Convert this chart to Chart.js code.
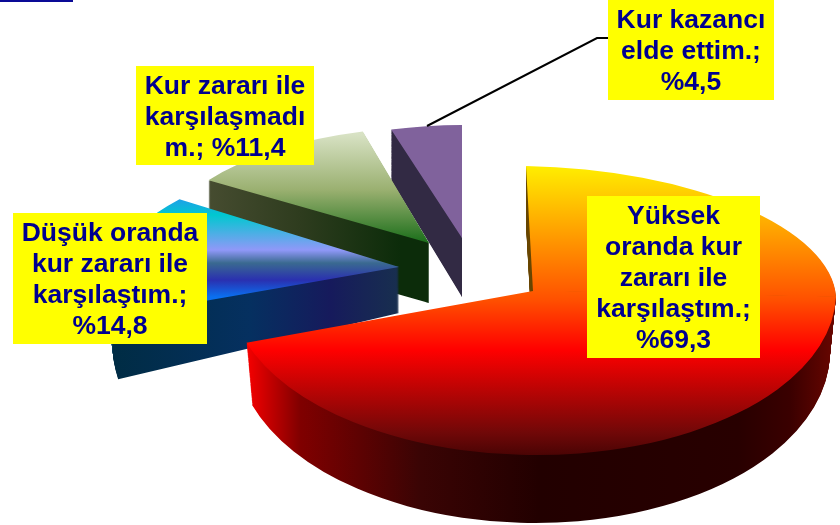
<!DOCTYPE html>
<html>
<head>
<meta charset="utf-8">
<script src="https://cdn.jsdelivr.net/npm/chart.js@4"></script>
<style>
  html, body { margin: 0; padding: 0; background: #fff; }
  #wrap { width: 840px; height: 525px; }
</style>
</head>
<body>
<div id="wrap"><canvas id="pie" width="840" height="525"></canvas></div>
<script>
const categories = [
  ['Yüksek', 'oranda kur', 'zararı ile', 'karşılaştım.;', '%69,3'],
  ['Düşük oranda', 'kur zararı ile', 'karşılaştım.;', '%14,8'],
  ['Kur zararı ile', 'karşılaşmadı', 'm.; %11,4'],
  ['Kur kazancı', 'elde ettim.;', '%4,5']
];
const shares = [69.3, 14.8, 11.4, 4.5];

// how each slice is projected on the page (fake perspective, one matrix per half)
const sliceSetup = [
  { tipX: 533, tipY: 291, rx: 303, ryTop: 125, ryBottom: 164, kTop: 7, kBottom: -8, m: 6, depth: 59, shrink: 0.02, growTop: 0, growBottom: 0.054, wallTop: '#6a4800' },
  { tipX: 399, tipY: 267, rx: 290, ryTop: 125, ryBottom: 143, kTop: -45, kBottom: -45, m: 0, depth: 46, shrink: 0.024, growTop: 0, growBottom: 0.32 },
  { tipX: 429, tipY: 243, rx: 268, ryTop: 116, ryBottom: 116, kTop: -9, kBottom: -9, m: 0, depth: 60, shrink: 0, growTop: 0, growBottom: 0 },
  { tipX: 462, tipY: 238, rx: 254, ryTop: 113, ryBottom: 113, kTop: 0, kBottom: 0, m: 0, depth: 59, shrink: 0, growTop: 0.078, growBottom: 0 }
];
const faceStops = [
  [[166, '#ffee00'], [300, '#ff5000'], [350, '#ff0000'], [433, '#700808'], [455, '#4a0404']],
  [[199, '#1fa0e8'], [215, '#00c8d0'], [250, '#9098f8'], [263, '#3a6a90'], [280, '#2a30b0'], [297, '#0a70f0'], [340, '#0a70f0']],
  [[134, '#d8e2c4'], [190, '#9ab070'], [243, '#1a6e1a']],
  [[125, '#80629c'], [240, '#80629c']]
];
const wallStops = [
  [[243, '#ff0000'], [300, '#800000'], [420, '#3a0404'], [540, '#220000'], [738, '#280000'], [790, '#3a0000'], [836, '#6a0600']],
  [[109, '#1780d0'], [113, '#002c44'], [250, '#053060'], [330, '#161a5c'], [402, '#18304e']],
  [[209, '#464c30'], [300, '#2e3c1e'], [400, '#0c2c0a'], [430, '#0c2c0a']],
  [[392, '#322a44'], [463, '#322a44']]
];
const labelBoxes = [
  { x: 587, y: 196, w: 173, h: 162 },
  { x: 13, y: 213, w: 194, h: 131 },
  { x: 136, y: 66, w: 178, h: 99 },
  { x: 608, y: 0, w: 166, h: 100 }
];

// gradient that runs along page x or y, whatever the current matrix is
function pageGradient(ctx, axis, stops) {
  const t = ctx.getTransform();
  const p = axis === 'x' ? [t.a, t.c, t.e] : [t.b, t.d, t.f];
  const n = p[0] * p[0] + p[1] * p[1];
  const a = stops[0][0], b = stops[stops.length - 1][0];
  const t0 = (a - p[2]) / n, t1 = (b - p[2]) / n;
  const g = ctx.createLinearGradient(t0 * p[0], t0 * p[1], t1 * p[0], t1 * p[1]);
  stops.forEach(s => g.addColorStop((s[0] - a) / (b - a), s[1]));
  return g;
}

function drawHalf(ctx, arc, s, top, d, fill) {
  const R = arc.outerRadius;
  const f = s.depth ? d / s.depth : 0;
  const sx = 1 - s.shrink * f;
  const ry = top ? s.ryTop * (1 + s.growTop * f) : s.ryBottom * (1 + s.growBottom * f);
  ctx.save();
  ctx.translate(s.tipX, s.tipY + d);
  ctx.transform(s.rx * sx / R, s.m / R, (top ? s.kTop : s.kBottom) / R, ry / R, 0, 0);
  ctx.beginPath();
  if (top) ctx.rect(-2 * R, -2 * R, 4 * R, 2 * R);
  else ctx.rect(-2 * R, -1, 4 * R, 2 * R + 1);
  ctx.clip();
  ctx.translate(-arc.x, -arc.y);
  arc.options.backgroundColor = fill(ctx);
  arc.draw(ctx);
  ctx.restore();
}

const pie3d = {
  id: 'pie3d',
  beforeDatasetsDraw(chart) {
    const ctx = chart.ctx;
    const arcs = chart.getDatasetMeta(0).data;

    // scrap of the slide frame, top left
    ctx.fillStyle = '#0a0a96';
    ctx.fillRect(0, 0, 73, 2);

    // back slices first so the big one covers them
    [3, 2, 1, 0].forEach(i => {
      const arc = arcs[i], s = sliceSetup[i];
      const keep = arc.options.backgroundColor;
      const wall = c => pageGradient(c, 'x', wallStops[i]);
      for (let d = s.depth; d > 0; d--) {
        drawHalf(ctx, arc, s, true, d, s.wallTop ? () => s.wallTop : wall);
        drawHalf(ctx, arc, s, false, d, wall);
      }
      const face = c => pageGradient(c, 'y', faceStops[i]);
      drawHalf(ctx, arc, s, true, 0, face);
      drawHalf(ctx, arc, s, false, 0, face);
      arc.options.backgroundColor = keep;
    });

    // leader line of the small slice
    ctx.strokeStyle = '#000';
    ctx.lineWidth = 2;
    ctx.beginPath();
    ctx.moveTo(427, 126);
    ctx.lineTo(597, 38);
    ctx.lineTo(608, 38);
    ctx.stroke();

    // yellow label boxes
    labelBoxes.forEach((b, i) => {
      ctx.fillStyle = '#ffff00';
      ctx.fillRect(b.x, b.y, b.w, b.h);
      ctx.fillStyle = '#00008f';
      ctx.font = 'bold 26.5px "Liberation Sans", Arial, sans-serif';
      ctx.textAlign = 'center';
      ctx.textBaseline = 'middle';
      const lines = categories[i], lh = 31;
      lines.forEach((line, j) => {
        ctx.fillText(line, b.x + b.w / 2, b.y + b.h / 2 + 2 + (j - (lines.length - 1) / 2) * lh);
      });
    });
    return false;
  }
};

new Chart(document.getElementById('pie'), {
  type: 'pie',
  data: {
    labels: categories.map(c => c.join(' ')),
    datasets: [{
      data: shares,
      backgroundColor: ['#ff0000', '#1050c0', '#4a8a30', '#80629c'],
      borderWidth: 0
    }]
  },
  options: {
    responsive: false,
    animation: false,
    plugins: { legend: { display: false }, tooltip: { enabled: false } }
  },
  plugins: [pie3d]
});
</script>
</body>
</html>
